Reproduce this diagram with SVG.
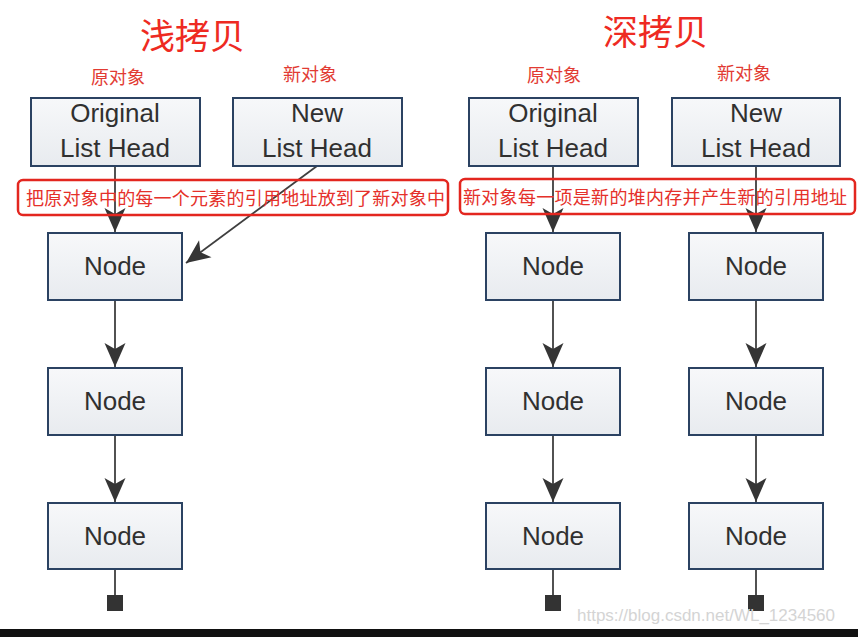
<svg xmlns="http://www.w3.org/2000/svg" width="858" height="637" viewBox="0 0 858 637">
<defs>
<linearGradient id="boxfill" x1="0" y1="0" x2="0" y2="1">
<stop offset="0" stop-color="#f7f8fa"/>
<stop offset="1" stop-color="#e8ebef"/>
</linearGradient>
<marker id="arr" markerUnits="userSpaceOnUse" markerWidth="28" markerHeight="24" viewBox="-26 -12 28 24" refX="0" refY="0" orient="auto">
<path d="M0,0 L-24,-10.5 L-18,0 L-24,10.5 Z" fill="#353535"/>
</marker>
<style>
.box{fill:url(#boxfill);stroke:#2b4262;stroke-width:2}
.lbl{font-family:"Liberation Sans",Arial,sans-serif;font-size:26px;fill:#303030;text-anchor:middle}
.cn{font-family:"Noto Sans CJK SC",sans-serif;fill:#e23b33}
.title{font-size:35px;fill:#ee2a22}
.sub{font-size:18px}
.note{font-size:18px;fill:#e5302a}
.redbox{fill:none;stroke:#e3261f;stroke-width:2.5}
.ln{stroke:#3f3f3f;stroke-width:1.8;fill:none}
.term{fill:#333}
</style>
</defs>
<rect width="858" height="637" fill="#ffffff"/>

<g id="titles">
<text class="cn title" x="140" y="49">浅拷贝</text>
<text class="cn title" x="603" y="45">深拷贝</text>
<text class="cn sub" x="91" y="84">原对象</text>
<text class="cn sub" x="283" y="81">新对象</text>
<text class="cn sub" x="527" y="82">原对象</text>
<text class="cn sub" x="717" y="80">新对象</text>
</g>

<g id="connectors">
<line class="ln" x1="115" y1="166" x2="115" y2="232" marker-end="url(#arr)"/>
<line class="ln" x1="115" y1="300" x2="115" y2="367" marker-end="url(#arr)"/>
<line class="ln" x1="115" y1="435" x2="115" y2="502" marker-end="url(#arr)"/>
<line class="ln" x1="115" y1="569" x2="115" y2="596"/>
<line class="ln" x1="317" y1="166" x2="186" y2="263" marker-end="url(#arr)"/>

<line class="ln" x1="553" y1="166" x2="553" y2="232" marker-end="url(#arr)"/>
<line class="ln" x1="553" y1="300" x2="553" y2="367" marker-end="url(#arr)"/>
<line class="ln" x1="553" y1="435" x2="553" y2="502" marker-end="url(#arr)"/>
<line class="ln" x1="553" y1="569" x2="553" y2="596"/>

<line class="ln" x1="756" y1="166" x2="756" y2="232" marker-end="url(#arr)"/>
<line class="ln" x1="756" y1="300" x2="756" y2="367" marker-end="url(#arr)"/>
<line class="ln" x1="756" y1="435" x2="756" y2="502" marker-end="url(#arr)"/>
<line class="ln" x1="756" y1="569" x2="756" y2="596"/>

<rect class="term" x="107" y="595" width="16" height="16"/>
<rect class="term" x="545" y="595" width="16" height="16"/>
<rect class="term" x="748" y="595" width="16" height="16"/>
</g>

<g id="orig-head-left">
<rect class="box" x="31" y="98" width="169" height="68"/>
<text class="lbl" x="115" y="122">Original</text>
<text class="lbl" x="115" y="157">List Head</text>
</g>
<g id="new-head-left">
<rect class="box" x="233" y="98" width="169" height="68"/>
<text class="lbl" x="317" y="122">New</text>
<text class="lbl" x="317" y="157">List Head</text>
</g>
<g id="node-left-1">
<rect class="box" x="48" y="233" width="134" height="67"/>
<text class="lbl" x="115" y="275">Node</text>
</g>
<g id="node-left-2">
<rect class="box" x="48" y="368" width="134" height="67"/>
<text class="lbl" x="115" y="410">Node</text>
</g>
<g id="node-left-3">
<rect class="box" x="48" y="503" width="134" height="66"/>
<text class="lbl" x="115" y="545">Node</text>
</g>

<g id="orig-head-right">
<rect class="box" x="469" y="98" width="169" height="68"/>
<text class="lbl" x="553" y="122">Original</text>
<text class="lbl" x="553" y="157">List Head</text>
</g>
<g id="new-head-right">
<rect class="box" x="672" y="98" width="168" height="68"/>
<text class="lbl" x="756" y="122">New</text>
<text class="lbl" x="756" y="157">List Head</text>
</g>
<g id="node-right-a1">
<rect class="box" x="486" y="233" width="134" height="67"/>
<text class="lbl" x="553" y="275">Node</text>
</g>
<g id="node-right-a2">
<rect class="box" x="486" y="368" width="134" height="67"/>
<text class="lbl" x="553" y="410">Node</text>
</g>
<g id="node-right-a3">
<rect class="box" x="486" y="503" width="134" height="66"/>
<text class="lbl" x="553" y="545">Node</text>
</g>
<g id="node-right-b1">
<rect class="box" x="689" y="233" width="134" height="67"/>
<text class="lbl" x="756" y="275">Node</text>
</g>
<g id="node-right-b2">
<rect class="box" x="689" y="368" width="134" height="67"/>
<text class="lbl" x="756" y="410">Node</text>
</g>
<g id="node-right-b3">
<rect class="box" x="689" y="503" width="134" height="66"/>
<text class="lbl" x="756" y="545">Node</text>
</g>

<g id="note-left">
<rect class="redbox" x="18" y="180" width="430" height="35" rx="5"/>
<text class="cn note" x="26" y="205" textLength="419" lengthAdjust="spacing">把原对象中的每一个元素的引用地址放到了新对象中</text>
</g>
<g id="note-right">
<rect class="redbox" x="460" y="179" width="395" height="35" rx="5"/>
<text class="cn note" x="463" y="204" textLength="384" lengthAdjust="spacing">新对象每一项是新的堆内存并产生新的引用地址</text>
</g>

<text x="577" y="621" font-family="Liberation Sans, Arial, sans-serif" font-size="17" fill="#d4d4d4">https://blog.csdn.net/WL_1234560</text>
<rect x="0" y="629" width="858" height="8" fill="#111111"/>
</svg>
